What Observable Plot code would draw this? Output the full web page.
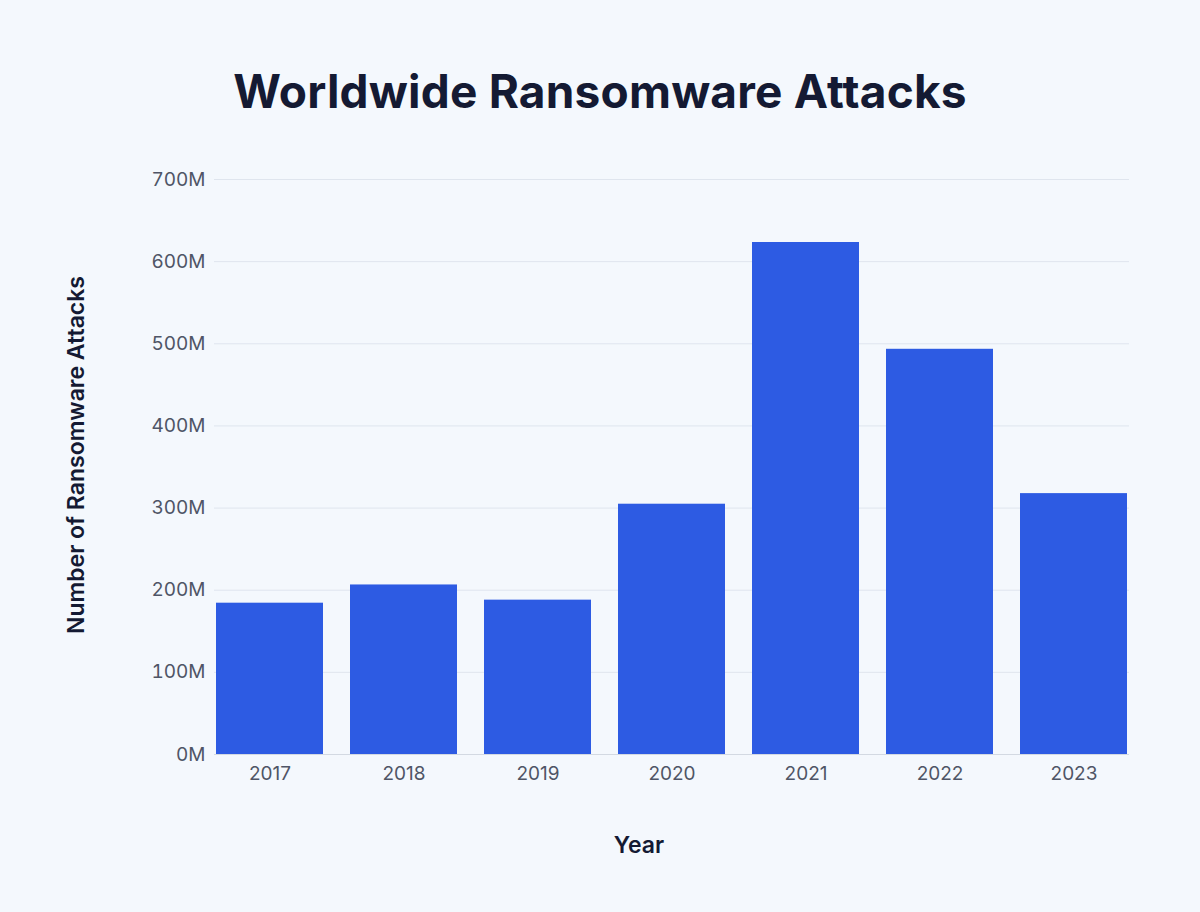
<!DOCTYPE html>
<html>
<head>
<meta charset="utf-8">
<script src="https://cdn.jsdelivr.net/npm/d3@7"></script>
<script src="https://cdn.jsdelivr.net/npm/@observablehq/plot@0.6"></script>
<style>
  html, body { margin: 0; padding: 0; background: #f4f8fd; }
  #wrap { position: relative; width: 1200px; height: 912px; overflow: hidden; background: #f4f8fd; }
  #title { position: absolute; left: 0; top: 68px; width: 1200px; text-align: center;
    font-family: Inter, "Noto Sans", sans-serif; font-weight: 700; font-size: 46px; line-height: 46px;
    color: #141a33; margin: 0; letter-spacing: 0.2px; }
  #chart { position: absolute; left: 0; top: 150px; }
</style>
</head>
<body>
<div id="wrap">
  <h1 id="title">Worldwide Ransomware Attacks</h1>
  <div id="chart"></div>
</div>
<script>
const years = ["2017", "2018", "2019", "2020", "2021", "2022", "2023"];
const attacks = [184.2e6, 206.4e6, 187.9e6, 304.7e6, 623.3e6, 493.3e6, 317.6e6];
const yTicks = [0, 100e6, 200e6, 300e6, 400e6, 500e6, 600e6, 700e6];
const yLabel = "Number of Ransomware Attacks";
const xLabel = "Year";

const data = years.map((y, i) => ({year: y, value: attacks[i]}));

const chart = Plot.plot({
  width: 1200,
  height: 762,
  marginLeft: 214,
  marginRight: 71,
  marginTop: 29,
  marginBottom: 158,
  style: {fontFamily: "Inter, 'Noto Sans', sans-serif", fontSize: "19px", color: "#4f5566", background: "transparent"},
  x: {domain: years, paddingInner: 0.2, paddingOuter: 0, label: null},
  y: {domain: [0, 700e6], label: null},
  marks: [
    Plot.gridY(yTicks.filter(d => d > 0), {stroke: "#dfe5ee", strokeOpacity: 1, strokeWidth: 1}),
    Plot.barY(data, {x: "year", y: "value", fill: "#2d5be3"}),
    Plot.ruleY([0], {stroke: "#d3d9e2", strokeWidth: 1}),
    Plot.axisY(yTicks, {tickSize: 0, tickPadding: 9, tickFormat: d => (d / 1e6) + "M", label: null, fill: "#4f5566", fontSize: 19}),
    Plot.axisX({tickSize: 0, tickPadding: 12, label: null, fill: "#4f5566", fontSize: 19}),
    Plot.text([yLabel], {frameAnchor: "left", textAnchor: "middle", dx: -138, dy: -12, rotate: -90, fontSize: 23, fontWeight: 600, fill: "#141a33"}),
    Plot.text([xLabel], {frameAnchor: "bottom", textAnchor: "middle", dx: -33, dy: 98, fontSize: 23, fontWeight: 600, fill: "#141a33"})
  ]
});
document.getElementById("chart").appendChild(chart);
</script>
</body>
</html>
